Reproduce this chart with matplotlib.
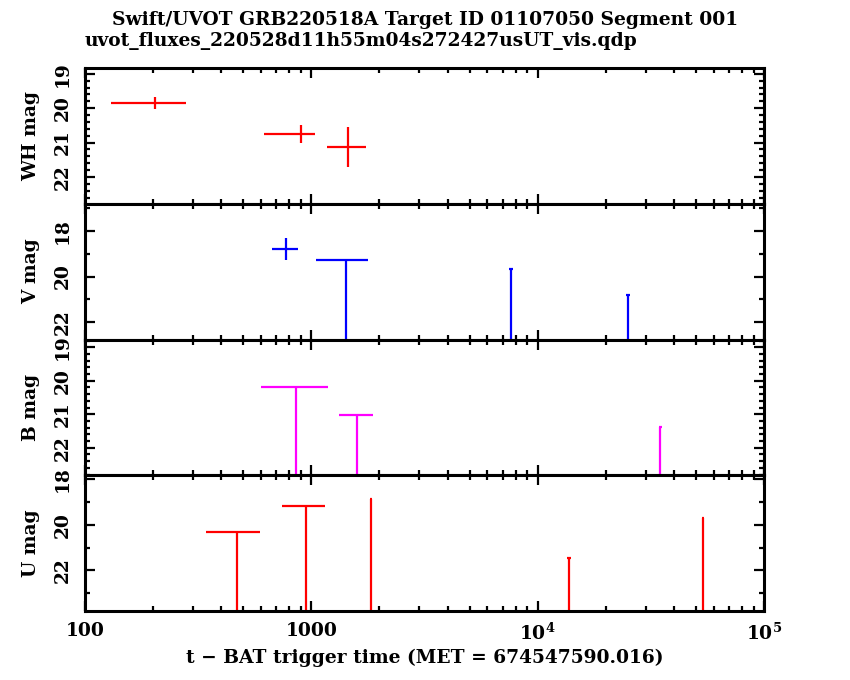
import matplotlib
matplotlib.use("Agg")
import matplotlib.pyplot as plt
from matplotlib.ticker import MultipleLocator, LogLocator, FuncFormatter, NullFormatter
import numpy as np

plt.rcParams["font.family"] = ["DejaVu Serif"]
plt.rcParams["font.weight"] = "bold"
plt.rcParams["axes.labelweight"] = "bold"
plt.rcParams["mathtext.fontset"] = "dejavuserif"

# data (t in s since trigger, mags)
wh_t = [204, 900, 1449]
wh_tlo = [130, 618, 1178]
wh_thi = [280, 1035, 1738]
wh_mag = [19.85, 20.75, 21.13]
wh_err = [0.18, 0.25, 0.59]

v_t = [771, 1419, 7600, 25170]
v_tlo = [668, 1045, 7445, 24650]
v_thi = [871, 1786, 7757, 25690]
v_mag = [18.81, 19.28, 19.66, 20.79]
v_err = [0.48, 0, 0, 0]
v_lim = [False, True, True, True]

b_t = [855, 1592, 34750]
b_tlo = [597, 1330, 34215]
b_thi = [1182, 1880, 35285]
b_mag = [20.18, 21.03, 21.37]
b_err = [0, 0, 0]
b_lim = [True, True, True]

u_t = [470, 948, 1837, 13710, 53700]
u_tlo = [343, 745, 1815, 13430, 53050]
u_thi = [595, 1153, 1859, 14000, 54350]
u_mag = [20.31, 19.18, 18.88, 21.44, 19.69]
u_err = [0, 0, 0, 0, 0]
u_lim = [True, True, True, True, True]

panels = [
    ("WH mag", "#ff0000", wh_t, wh_tlo, wh_thi, wh_mag, wh_err, [False] * 3, (22.78, 18.83), 1, 0.2),
    ("V mag", "#0000ff", v_t, v_tlo, v_thi, v_mag, v_err, v_lim, (22.76, 16.81), 2, 1),
    ("B mag", "#ff00ff", b_t, b_tlo, b_thi, b_mag, b_err, b_lim, (22.82, 18.77), 1, 0.2),
    ("U mag", "#ff0000", u_t, u_tlo, u_thi, u_mag, u_err, u_lim, (23.78, 17.82), 2, 1),
]

W, H = 850, 680
fig = plt.figure(figsize=(8.5, 6.8), dpi=100)

left_px, right_px, top_px, bot_px = 85, 764, 68, 611
ph = (bot_px - top_px) / 4
fs = 13.4

axes = []
for i, (lab, col, t, tlo, thi, mag, err, lim, ylim, maj, mnr) in enumerate(panels):
    y0 = top_px + i * ph
    ax = fig.add_axes([left_px / W, (H - y0 - ph) / H, (right_px - left_px) / W, ph / H])
    t = np.array(t, float)
    xerr = [t - np.array(tlo), np.array(thi) - t]
    lo = np.array(err, float)
    hi = np.where(lim, 10.0, err)
    ax.errorbar(t, mag, xerr=xerr, yerr=[lo, hi], fmt="none", ecolor=col,
                elinewidth=1.6, capsize=0)
    ax.set_xscale("log")
    ax.set_xlim(100, 1e5)
    ax.set_ylim(*ylim)
    ax.yaxis.set_major_locator(MultipleLocator(maj))
    ax.yaxis.set_minor_locator(MultipleLocator(mnr))
    ax.xaxis.set_major_locator(LogLocator(base=10, numticks=10))
    ax.xaxis.set_minor_locator(LogLocator(base=10, subs=np.arange(2, 10), numticks=20))
    ax.tick_params(which="both", direction="in", top=True, right=True, width=1.6,
                   labelsize=fs)
    ax.tick_params(which="major", length=7.5)
    ax.tick_params(which="minor", length=3.6)
    ax.tick_params(axis="y", pad=9.4)
    for s in ax.spines.values():
        s.set_linewidth(2.2)
    for tl in ax.get_yticklabels():
        tl.set_rotation(90)
        tl.set_va("center")
    ax.set_ylabel(lab, fontsize=fs)
    ax.yaxis.set_label_coords((40 - left_px) / (right_px - left_px), 0.5)
    if i < 3:
        ax.xaxis.set_major_formatter(NullFormatter())
    else:
        names = {100: "100", 1000: "1000", 10000: "$10^4$", 100000: "$10^5$"}
        ax.xaxis.set_major_formatter(FuncFormatter(lambda v, p: names.get(int(round(v)), "")))
        ax.tick_params(axis="x", pad=8)
        ax.set_xlabel("t \u2212 BAT trigger time (MET = 674547590.016)", fontsize=fs, labelpad=4)
    ax.xaxis.set_minor_formatter(NullFormatter())
    axes.append(ax)

fig.text(425 / W, 1 - 20 / H, "Swift/UVOT GRB220518A Target ID 01107050 Segment 001",
         ha="center", va="center", fontsize=fs)
fig.text(left_px / W, 1 - 46 / H, "uvot_fluxes_220528d11h55m04s272427usUT_vis.qdp",
         ha="left", va="baseline", fontsize=fs)

fig.savefig("out.png", dpi=100)
